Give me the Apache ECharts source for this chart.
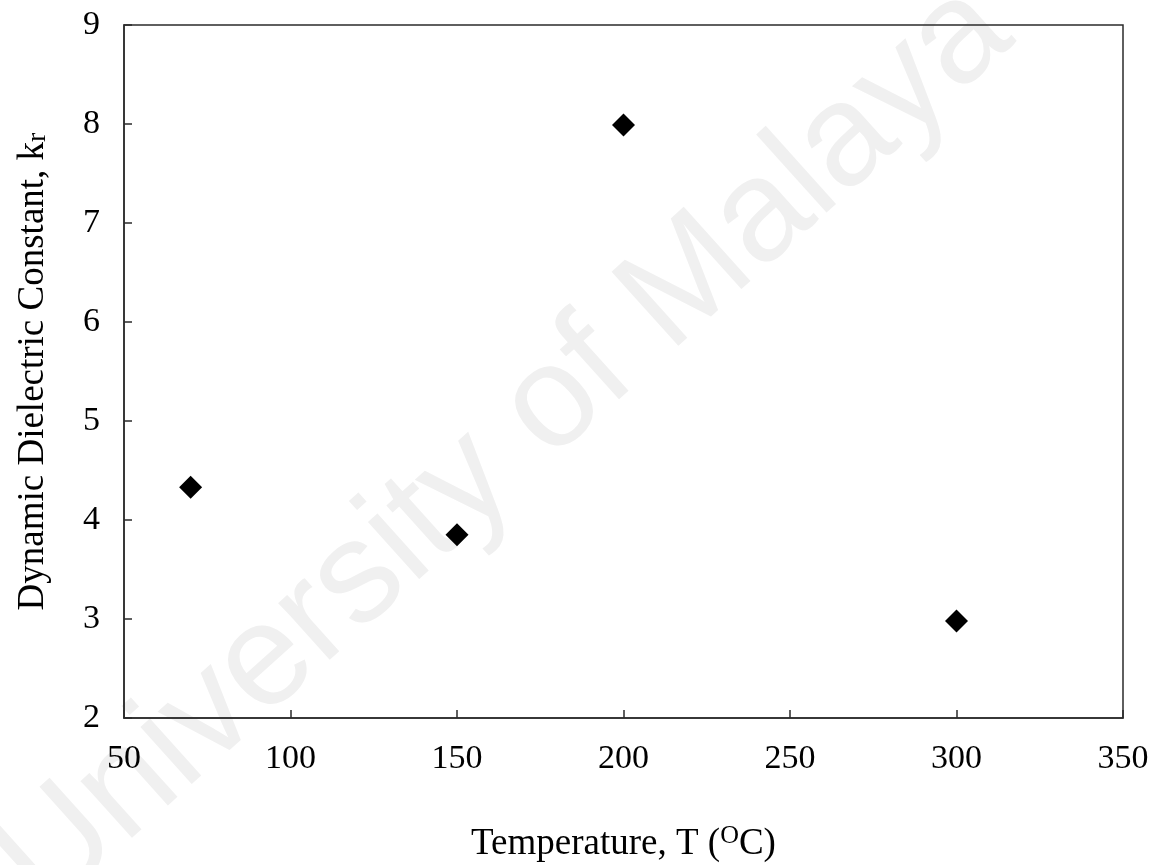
<!DOCTYPE html>
<html>
<head>
<meta charset="utf-8">
<script src="https://cdn.jsdelivr.net/npm/echarts@6/dist/echarts.min.js"></script>
<style>html,body{margin:0;padding:0;background:#fff;}#c{width:1168px;height:865px;}</style>
</head>
<body>
<div id="c"></div>
<script>
const temperatures = [70, 150, 200, 300];
const dielectric = [4.33, 3.85, 7.99, 2.98];
const xTicks = [50, 100, 150, 200, 250, 300, 350];
const yTicks = [2, 3, 4, 5, 6, 7, 8, 9];
const xTitle = 'Temperature, T (';
const yTitle = 'Dynamic Dielectric Constant, k';
const watermark = 'University of Malaya';

const font = 'Liberation Serif';
const chart = echarts.init(document.getElementById('c'));
const axisCol = '#2b2b2b';
chart.setOption({
  backgroundColor: '#fff',
  animation: false,
  graphic: [{
    type: 'text', z: -10, silent: true,
    x: 505, y: 448, rotation: 42 * Math.PI / 180,
    style: {
      text: watermark, fill: '#f0f0f0',
      font: '145px "Liberation Sans"',
      align: 'center', verticalAlign: 'middle'
    }
  }],
  grid: {
    left: 124, right: 45, top: 25, bottom: 147,
    containLabel: false, outerBoundsMode: 'none',
    show: true, borderColor: axisCol, borderWidth: 1.5,
    backgroundColor: 'transparent'
  },
  xAxis: {
    type: 'value', min: xTicks[0], max: xTicks[xTicks.length - 1], interval: 50,
    name: '{t|' + xTitle + '}{sup|O}{t|C)}',
    nameLocation: 'middle', nameGap: 105,
    nameTextStyle: {
      rich: {
        t: { fontFamily: font, fontSize: 37, color: '#000' },
        sup: { fontFamily: font, fontSize: 26, color: '#000', verticalAlign: 'top', padding: [0, 0, 16, 0] }
      }
    },
    axisLine: { show: true, lineStyle: { color: axisCol, width: 1.5 } },
    axisTick: { show: true, inside: true, length: 8, lineStyle: { color: axisCol, width: 1.5 } },
    axisLabel: { fontFamily: font, fontSize: 34, color: '#000', margin: 24 },
    splitLine: { show: false }
  },
  yAxis: {
    type: 'value', min: yTicks[0], max: yTicks[yTicks.length - 1], interval: 1,
    name: '{t|' + yTitle + '}{sub|r}',
    nameLocation: 'middle', nameGap: 72, nameRotate: 90,
    nameTextStyle: {
      rich: {
        t: { fontFamily: font, fontSize: 37, color: '#000' },
        sub: { fontFamily: font, fontSize: 28, color: '#000', padding: [10, 0, 0, 0] }
      }
    },
    axisLine: { show: true, lineStyle: { color: axisCol, width: 1.5 } },
    axisTick: { show: true, inside: true, length: 8, lineStyle: { color: axisCol, width: 1.5 } },
    axisLabel: { fontFamily: font, fontSize: 34, color: '#000', margin: 24 },
    splitLine: { show: false }
  },
  series: [{
    type: 'scatter', z: 5,
    symbol: 'diamond', symbolSize: 23,
    itemStyle: { color: '#000', opacity: 1 },
    data: temperatures.map((t, i) => [t, dielectric[i]])
  }]
});
</script>
</body>
</html>
